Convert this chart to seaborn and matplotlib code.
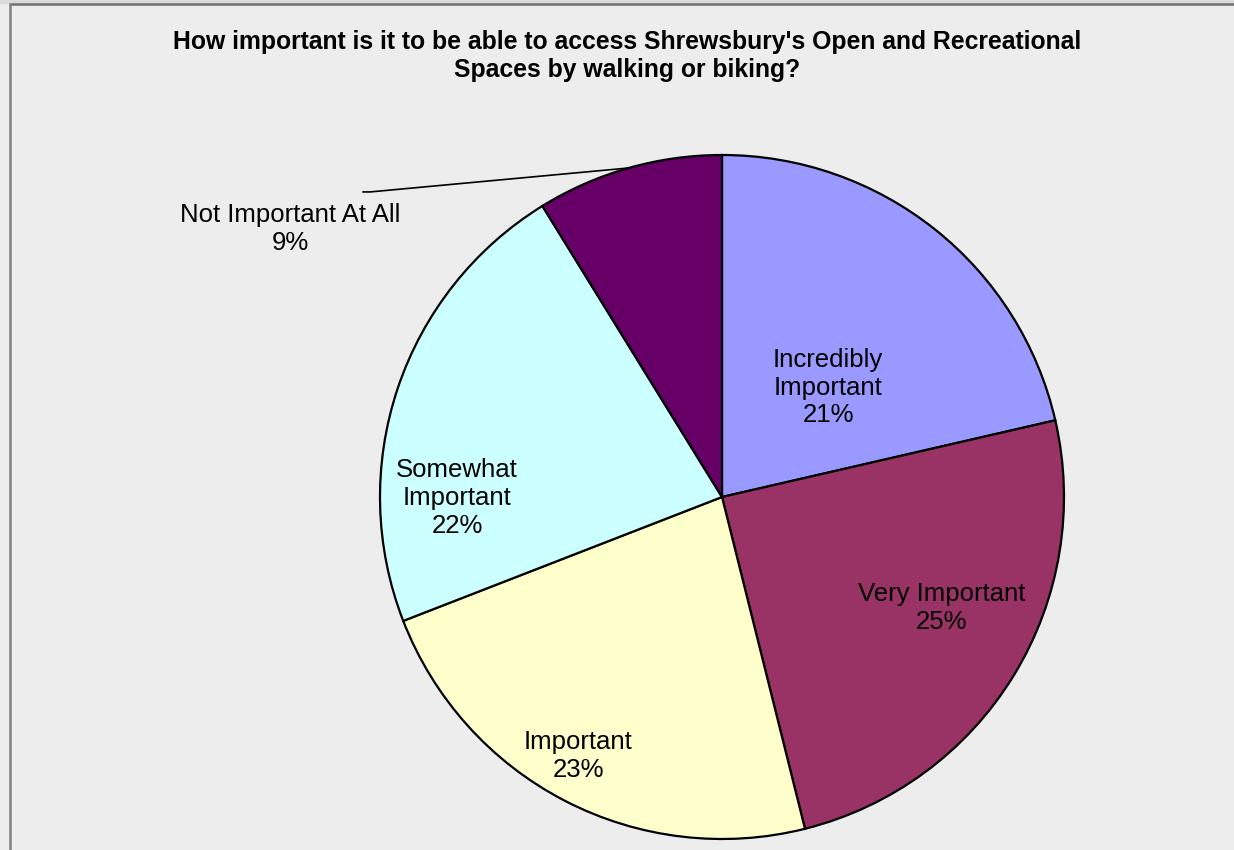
import numpy as np
import seaborn as sns
import matplotlib.pyplot as plt
from matplotlib.lines import Line2D

# data (percent of respondents)
categories = ['Incredibly\nImportant', 'Very Important', 'Important',
              'Somewhat\nImportant', 'Not Important At All']
shares = [21.4, 24.7, 23.0, 22.1, 8.8]
slice_colors = ['#9999FF', '#993366', '#FFFFCC', '#CCFFFF', '#660066']

# label positions in pie-radius units (layout only)
label_pos = [(0.31, 0.32), (0.643, -0.325), (-0.421, -0.757),
             (-0.775, -0.003), (-1.263, 0.784)]

sns.set_theme(style='white')
plt.rcParams['font.family'] = ['Liberation Sans', 'DejaVu Sans']
plt.rcParams['text.color'] = 'black'
bg = '#EDEDED'

fig = plt.figure(figsize=(12.34, 8.5), dpi=100, facecolor=bg)
ax = fig.add_axes([0, 0, 1, 1])
ax.set_facecolor(bg)

pal = sns.color_palette(slice_colors)
wedges, _ = ax.pie(shares, colors=pal, startangle=90, counterclock=False,
                   radius=1, center=(0, 0),
                   wedgeprops=dict(edgecolor='black', linewidth=1.6))

for w, lab, val, (lx, ly) in zip(wedges, categories, shares, label_pos):
    ax.text(lx, ly, f'{lab}\n{val:.0f}%', ha='center', va='center',
            fontsize=18.5, color='black', linespacing=1.2)

# leader line for the small slice
w = wedges[-1]
mid = np.deg2rad((w.theta1 + w.theta2) / 2)
ex, ey = np.cos(mid), np.sin(mid)
ax.plot([-1.05, -1.029, ex], [0.892, 0.892, ey], color='black', lw=1.2)

ax.set_xlim(-722 / 342, (1234 - 722) / 342)
ax.set_ylim(-(850 - 497) / 342, 497 / 342)
ax.set_aspect('auto')
ax.axis('off')

fig.text(0.508, 1 - 56 / 850,
         "How important is it to be able to access Shrewsbury's Open and Recreational\n"
         "Spaces by walking or biking?",
         ha='center', va='center', fontsize=17.8, fontweight='bold',
         color='black', linespacing=1.2)

# chart frame: top and left edges
fig.patches.append(plt.Rectangle((0, 1 - 3 / 850), 1, 3 / 850,
                                 transform=fig.transFigure, color='#DADADA'))
fig.lines.append(Line2D([10 / 1234, 1], [1 - 3.5 / 850, 1 - 3.5 / 850],
                        transform=fig.transFigure, color='#707070', lw=1.8))
fig.lines.append(Line2D([10 / 1234, 10 / 1234], [0, 1 - 3.5 / 850],
                        transform=fig.transFigure, color='#808080', lw=1.8))

plt.savefig('out.png', dpi=100, facecolor=bg)
